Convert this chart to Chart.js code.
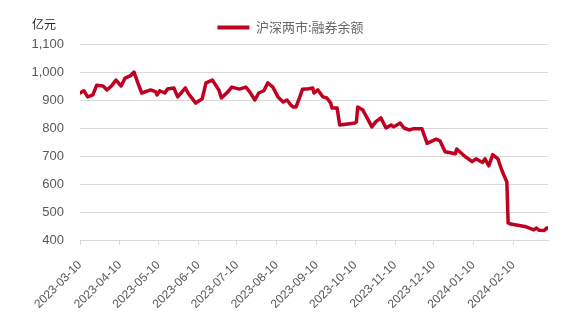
<!DOCTYPE html>
<html><head><meta charset="utf-8">
<script src="https://cdn.jsdelivr.net/npm/chart.js@4.4.0/dist/chart.umd.min.js"></script>
<style>html,body{margin:0;padding:0;background:#fff;}#wrap{width:581px;height:316px;position:relative;}</style>
</head><body><div id="wrap"><canvas id="c"></canvas></div>
<script>
const seriesName = '沪深两市:融券余额';
const unitLabel = '亿元';
const dates = [
'2023-03-10','2023-03-13','2023-03-16','2023-03-20','2023-03-23','2023-03-28','2023-03-31','2023-04-04','2023-04-07','2023-04-11',
'2023-04-14','2023-04-18','2023-04-21','2023-04-24','2023-04-27','2023-05-04','2023-05-08','2023-05-09','2023-05-11','2023-05-15',
'2023-05-17','2023-05-22','2023-05-25','2023-05-31','2023-06-02','2023-06-08','2023-06-13','2023-06-16','2023-06-21','2023-06-26',
'2023-06-28','2023-07-03','2023-07-06','2023-07-12','2023-07-17','2023-07-20','2023-07-24','2023-07-27','2023-07-31','2023-08-03',
'2023-08-07','2023-08-11','2023-08-15','2023-08-18','2023-08-21','2023-08-23','2023-08-25','2023-08-28','2023-08-30','2023-09-04',
'2023-09-07','2023-09-08','2023-09-11','2023-09-15','2023-09-18','2023-09-21','2023-09-22','2023-09-26','2023-09-28','2023-10-10',
'2023-10-11','2023-10-12','2023-10-16','2023-10-19','2023-10-23','2023-10-26','2023-10-30','2023-11-03','2023-11-07','2023-11-09',
'2023-11-14','2023-11-17','2023-11-21','2023-11-24','2023-12-01','2023-12-05','2023-12-12','2023-12-15','2023-12-19','2023-12-27',
'2023-12-28','2024-01-03','2024-01-09','2024-01-12','2024-01-17','2024-01-19','2024-01-22','2024-01-25','2024-01-29','2024-02-01',
'2024-02-05','2024-02-06','2024-02-08','2024-02-20','2024-02-26','2024-02-28','2024-03-01','2024-03-05','2024-03-07','2024-03-08'
];
const values = [
925,933,911,918,953,950,936,953,971,950,
978,986,1000,961,925,936,929,918,933,925,
939,943,911,943,925,889,904,961,971,936,
907,929,946,939,946,929,900,925,933,961,
946,911,893,900,882,875,875,911,938,940,
943,925,936,911,907,889,871,871,811,818,
822,875,864,839,804,822,836,800,811,804,
818,800,793,797,797,745,760,754,715,708,
725,700,680,690,677,690,665,705,690,650,
607,461,457,447,436,443,435,434,443,441
];
const xTickDates = ['2023-03-10','2023-04-10','2023-05-10','2023-06-10','2023-07-10','2023-08-10','2023-09-10','2023-10-10','2023-11-10','2023-12-10','2024-01-10','2024-02-10'];
const yTicks = [400,500,600,700,800,900,1000,1100];
const xStart = '2023-03-10', xEnd = '2024-03-08';

const DAY = 86400000;
const base = Date.parse(xStart + 'T00:00:00Z');
const toDay = s => Math.round((Date.parse(s + 'T00:00:00Z') - base) / DAY);
const fromDay = d => new Date(base + d * DAY).toISOString().slice(0, 10);

const RED = '#C00020';
const GRID = '#D9D9D9';
const TXT = '#595959';

const unitPlugin = {
  id: 'unitLabel',
  afterDraw(chart) {
    const ctx = chart.ctx;
    ctx.save();
    ctx.font = '12px "Noto Sans CJK SC"';
    ctx.fillStyle = '#262626';
    ctx.textBaseline = 'middle';
    ctx.textAlign = 'left';
    ctx.fillText(unitLabel, 32, 24);
    ctx.restore();
  }
};

new Chart(document.getElementById('c'), {
  type: 'line',
  data: {
    datasets: [{
      label: seriesName,
      data: dates.map((d, i) => ({x: toDay(d), y: values[i]})),
      borderColor: RED,
      backgroundColor: RED,
      borderWidth: 3.5,
      pointRadius: 0,
      tension: 0,
      borderJoinStyle: 'round',
      borderCapStyle: 'round'
    }]
  },
  options: {
    responsive: true,
    maintainAspectRatio: false,
    animation: false,
    devicePixelRatio: 1,
    layout: {padding: {top: 0, left: 0, right: 0, bottom: 0}},
    plugins: {
      legend: {
        display: true,
        position: 'top',
        labels: {
          boxWidth: 32, boxHeight: 4, padding: 10, color: '#666666',
          font: {family: '"Noto Sans CJK SC"', size: 13},
          generateLabels: chart => {
            const items = Chart.defaults.plugins.legend.labels.generateLabels(chart);
            items.forEach(it => { it.lineWidth = 0; it.fillStyle = RED; });
            return items;
          }
        }
      },
      tooltip: {enabled: false}
    },
    scales: {
      x: {
        type: 'linear',
        min: toDay(xStart),
        max: toDay(xEnd),
        afterBuildTicks: s => { s.ticks = xTickDates.map(d => ({value: toDay(d)})); },
        afterFit: s => { s.height = 76; s.paddingRight = 33; },
        ticks: {
          autoSkip: false, maxRotation: 45, minRotation: 45,
          callback: v => fromDay(v),
          color: TXT, font: {family: '"Liberation Sans", Arial', size: 12}, padding: 13
        },
        grid: {drawOnChartArea: false, drawTicks: true, tickLength: 5, color: GRID},
        border: {display: true, color: GRID}
      },
      y: {
        min: 400, max: 1100,
        afterBuildTicks: s => { s.ticks = yTicks.map(v => ({value: v})); },
        afterFit: s => { s.width = 80; s.paddingTop = 44; },
        ticks: {
          callback: v => v.toLocaleString('en-US'),
          color: TXT, font: {family: '"Liberation Sans", Arial', size: 13}, padding: 16
        },
        grid: {color: GRID, drawTicks: false, lineWidth: 1},
        border: {display: false}
      }
    }
  },
  plugins: [unitPlugin]
});
</script>
</body></html>
